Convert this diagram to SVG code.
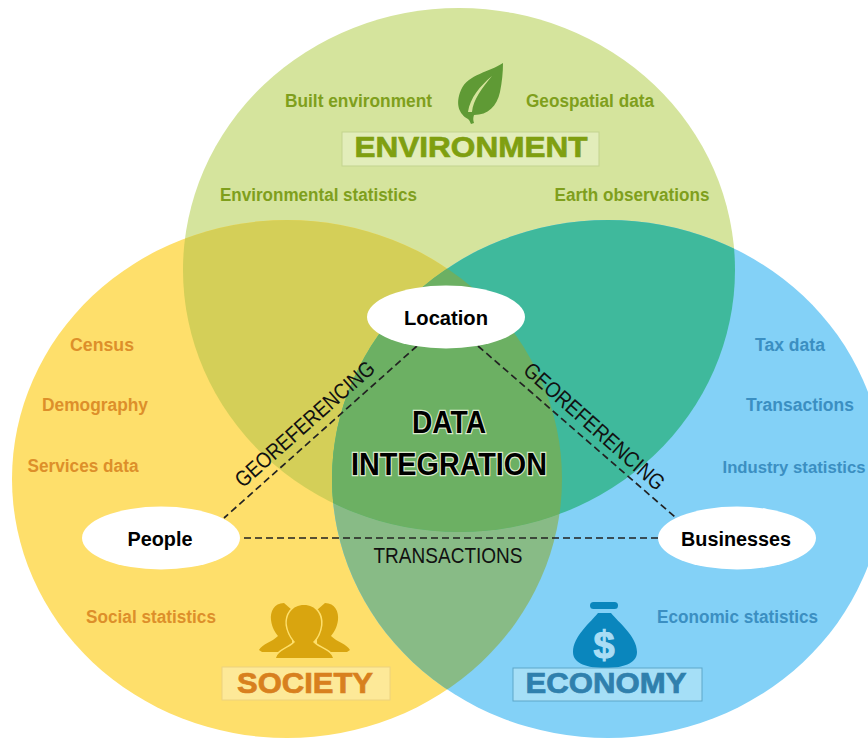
<svg xmlns="http://www.w3.org/2000/svg" width="868" height="738" viewBox="0 0 868 738">
<style>
text{font-family:"Liberation Sans",Arial,sans-serif}
.g{font-size:18px;font-weight:700;fill:#7f9f1c;text-anchor:middle}
.o{font-size:18px;font-weight:700;fill:#dd8f2a;text-anchor:middle}
.b{font-size:18px;font-weight:700;fill:#3b8fc2;text-anchor:middle}
.n{font-size:20px;font-weight:700;fill:#000;text-anchor:middle}
.t{font-size:29px;font-weight:700;text-anchor:middle;stroke-width:.7px}
.d{font-size:32px;font-weight:700;fill:#000;stroke:#dcebcf;stroke-width:2.500px;paint-order:stroke;text-anchor:middle}
.l{font-size:22px;fill:#111;text-anchor:middle}
.c{stroke:#222;stroke-width:1.7;stroke-dasharray:7 4;fill:none}
</style>
<defs>
<clipPath id="ce"><ellipse cx="459" cy="270" rx="276" ry="262"/></clipPath>
<clipPath id="cs"><ellipse cx="287" cy="479" rx="275" ry="259"/></clipPath>
</defs>
<rect width="868" height="738" fill="#fff"/>
<g id="circles">
<ellipse cx="459" cy="270" rx="276" ry="262" fill="#d5e49d"/>
<ellipse cx="287" cy="479" rx="275" ry="259" fill="#fedf6b"/>
<ellipse cx="608" cy="479" rx="276" ry="259" fill="#83d1f7"/>
<g clip-path="url(#cs)"><ellipse cx="608" cy="479" rx="276" ry="259" fill="#88bb86"/></g>
<g clip-path="url(#ce)"><ellipse cx="287" cy="479" rx="275" ry="259" fill="#d4cf58"/><ellipse cx="608" cy="479" rx="276" ry="259" fill="#3fb99c"/>
<g clip-path="url(#cs)"><ellipse cx="608" cy="479" rx="276" ry="259" fill="#6cb063"/></g></g>
</g>
<g id="connectors">
<line class="c" x1="417" y1="346" x2="224" y2="518"/>
<line class="c" x1="478" y1="346" x2="675" y2="517"/>
<line class="c" x1="244" y1="538" x2="660" y2="538"/>
<text class="l" transform="translate(311 431) rotate(-41.500)" x="0" y="-2" textLength="178" lengthAdjust="spacingAndGlyphs">GEOREFERENCING</text>
<text class="l" transform="translate(588 433.500) rotate(41.500)" x="0" y="-2" textLength="180" lengthAdjust="spacingAndGlyphs">GEOREFERENCING</text>
<text class="l" x="448" y="563" textLength="149" lengthAdjust="spacingAndGlyphs">TRANSACTIONS</text>
</g>
<g id="environment">
<path d="M503 63C490 72 468 74 461 90C455 104 459 114 468 119C470 121 470 122 471 124L474 123C473 120 473 118 474 115C488 115 497 106 500 92C502 82 503 72 503 63Z" fill="#5f9a35"/>
<path d="M492 76C480 86 470 98 468 112L472 112C473 100 482 88 492 76Z" fill="#d5e49d"/>
<rect x="342" y="132" width="257" height="34" fill="#e2edba" stroke="#c3d38f" stroke-width="1"/>
<text class="t" x="471" y="157" fill="#7f9f10" stroke="#7f9f10" textLength="233" lengthAdjust="spacingAndGlyphs">ENVIRONMENT</text>
<text class="g" x="358.500" y="107" textLength="147" lengthAdjust="spacingAndGlyphs">Built environment</text>
<text class="g" x="590" y="107" textLength="128" lengthAdjust="spacingAndGlyphs">Geospatial data</text>
<text class="g" x="318.500" y="201" textLength="197" lengthAdjust="spacingAndGlyphs">Environmental statistics</text>
<text class="g" x="632" y="201" textLength="155" lengthAdjust="spacingAndGlyphs">Earth observations</text>
</g>
<g id="society">
<path d="M284 603C274 603 270 612 271 620C272 628 275 632 278 636C272 642 262 644 259 650L262 652H292V610Z" fill="#d9a50f"/>
<path d="M325 603C335 603 339 612 338 620C337 628 334 632 331 636C337 642 347 644 350 650L347 652H317V610Z" fill="#d9a50f"/>
<path d="M304 605C292 605 286 615 287 625C288 633 292 638 295 642C290 648 278 650 276 658H333C331 650 318 648 313 642C317 638 320 633 321 625C322 615 316 605 304 605Z" fill="#d9a50f" stroke="#fedf6b" stroke-width="3" paint-order="stroke"/>
<rect x="222" y="667" width="168" height="33" fill="#fde998" stroke="#ecd27f" stroke-width="1"/>
<text class="t" x="305" y="693" fill="#d8801e" stroke="#d8801e" textLength="136" lengthAdjust="spacingAndGlyphs">SOCIETY</text>
<text class="o" x="102" y="351" textLength="64" lengthAdjust="spacingAndGlyphs">Census</text>
<text class="o" x="95" y="411" textLength="106" lengthAdjust="spacingAndGlyphs">Demography</text>
<text class="o" x="83" y="472" textLength="111" lengthAdjust="spacingAndGlyphs">Services data</text>
<text class="o" x="151" y="623" textLength="130" lengthAdjust="spacingAndGlyphs">Social statistics</text>
</g>
<g id="economy">
<path d="M598 613H611C618 622 637 636 637 652C637 664 622 668 605 668C588 668 573 664 573 652C573 636 591 622 598 613Z" fill="#0a86bd"/>
<rect x="590" y="602" width="28" height="7" rx="3.500" fill="#0a86bd"/>
<text x="604" y="658" font-size="38" font-weight="700" fill="#a9ddf5" stroke="#a9ddf5" stroke-width="1" text-anchor="middle">$</text>
<rect x="513" y="668" width="189" height="33" fill="#a5dff7" stroke="#5ea7c9" stroke-width="1"/>
<text class="t" x="606" y="693" fill="#2f80ad" stroke="#2f80ad" textLength="161" lengthAdjust="spacingAndGlyphs">ECONOMY</text>
<text class="b" x="790" y="351" textLength="70" lengthAdjust="spacingAndGlyphs">Tax data</text>
<text class="b" x="800" y="411" textLength="108" lengthAdjust="spacingAndGlyphs">Transactions</text>
<text class="b" x="794" y="473" font-size="17" style="font-size:17px" textLength="143" lengthAdjust="spacingAndGlyphs">Industry statistics</text>
<text class="b" x="737.500" y="623" textLength="161" lengthAdjust="spacingAndGlyphs">Economic statistics</text>
</g>
<g id="location"><ellipse cx="446" cy="317" rx="79" ry="31.500" fill="#fff"/><text class="n" x="446" y="325" textLength="84" lengthAdjust="spacingAndGlyphs">Location</text></g>
<g id="people"><ellipse cx="161" cy="538" rx="79" ry="31.500" fill="#fff"/><text class="n" x="160" y="546" textLength="65" lengthAdjust="spacingAndGlyphs">People</text></g>
<g id="businesses"><ellipse cx="737" cy="538" rx="79" ry="31.500" fill="#fff"/><text class="n" x="736" y="546" textLength="110" lengthAdjust="spacingAndGlyphs">Businesses</text></g>
<g id="data-integration">
<text class="d" x="449" y="433" textLength="74" lengthAdjust="spacingAndGlyphs">DATA</text>
<text class="d" x="449" y="475" textLength="196" lengthAdjust="spacingAndGlyphs">INTEGRATION</text>
</g>
</svg>
